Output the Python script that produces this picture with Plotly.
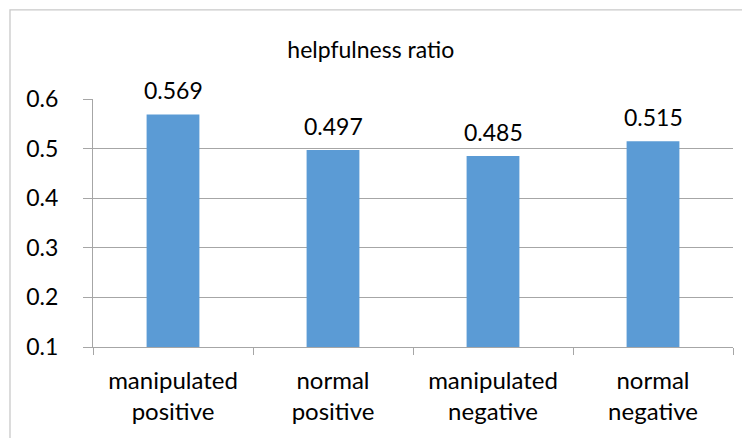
import plotly.graph_objects as go

categories = ["manipulated<br>positive", "normal<br>positive", "manipulated<br>negative", "normal<br>negative"]
values = [0.569, 0.497, 0.485, 0.515]
value_labels = ["0.569", "0.497", "0.485", "0.515"]
y_ticks = [0.1, 0.2, 0.3, 0.4, 0.5, 0.6]
y_tick_labels = ["0.1", "0.2", "0.3", "0.4", "0.5", "0.6"]

FONT = "Lato, Carlito, Calibri, sans-serif"
GRID = "#a6a6a6"
FS = 23

fig = go.Figure()
fig.add_trace(go.Bar(
    x=categories, y=values, marker=dict(color="#5b9bd5", line=dict(width=0)),
    width=0.33, hoverinfo="skip"
))

for c, v, t in zip(categories, values, value_labels):
    fig.add_annotation(x=c, y=v, text=t, showarrow=False, yanchor="bottom",
                       yshift=8, font=dict(family=FONT, size=FS, color="#000000"))

# chart-area border (top and left visible)
fig.add_shape(type="rect", xref="paper", yref="paper",
              x0=-0.1297, x1=1.3, y0=-1.0, y1=1.359,
              line=dict(color="#c9c9c9", width=1.3), fillcolor="rgba(0,0,0,0)", layer="below")

fig.update_layout(
    width=750, height=438,
    margin=dict(l=85, r=25, t=91, b=99, autoexpand=False),
    paper_bgcolor="white", plot_bgcolor="white",
    showlegend=False,
    title=dict(text="helpfulness ratio", x=0.434, xref="paper", xanchor="center",
               y=1 - 42 / 438, yref="container", yanchor="middle",
               font=dict(family=FONT, size=23, color="#000000")),
    font=dict(family=FONT, size=FS, color="#000000"),
)
fig.update_yaxes(range=[0.1, 0.6], tickvals=y_ticks, ticktext=y_tick_labels,
                 showgrid=True, gridcolor=GRID, gridwidth=1,
                 showline=True, linecolor=GRID, linewidth=1,
                 ticks="outside", ticklen=9, tickcolor=GRID,
                 ticklabelstandoff=20, automargin=False,
                 tickfont=dict(family=FONT, size=FS, color="#000000"),
                 zeroline=False, fixedrange=True)
fig.update_xaxes(showline=True, linecolor=GRID, linewidth=1,
                 ticks="outside", ticklen=7, tickcolor=GRID, tickson="boundaries",
                 tickfont=dict(family=FONT, size=24, color="#000000"),
                 ticklabelstandoff=12, automargin=False, showgrid=False, fixedrange=True)

fig.write_html("out.html")
